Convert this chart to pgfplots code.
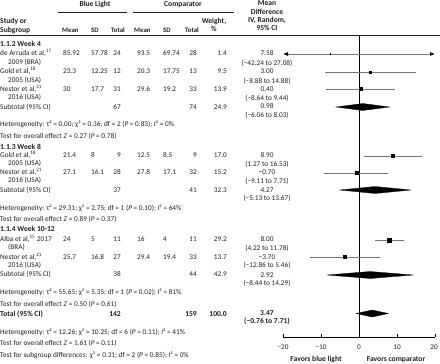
\documentclass[border=0pt]{standalone}
\usepackage{fontspec}
\setmainfont{Carlito}
\usepackage{pgfplots}
\pgfplotsset{compat=1.18}
\usetikzlibrary{arrows.meta}
\definecolor{cigray}{RGB}{120,120,120}
\definecolor{txt}{RGB}{35,31,32}
\newcommand{\chfont}{\fontsize{7.3}{8}\selectfont}
\newcommand{\chbold}{\fontsize{7.6}{8}\selectfont\bfseries}
\newcommand{\Lt}[3]{\node[anchor=base west,inner sep=0pt] at (#1,#2+2.5) {#3};}
\newcommand{\Rt}[3]{\node[anchor=base east,inner sep=0pt] at (#1,#2+2.5) {#3};}
\newcommand{\Ct}[3]{\node[anchor=base,inner sep=0pt] at (#1,#2+2.5) {#3};}
% one study row: y, m1, sd1, n1, m2, sd2, n2, weight, md
\newcommand{\Row}[9]{%
  \Lt{63}{#1}{#2}\Lt{91}{#1}{#3}\Rt{121}{#1}{#4}%
  \Lt{137}{#1}{#5}\Lt{163}{#1}{#6}\Rt{197}{#1}{#7}\Rt{227}{#1}{#8}%
  \Ct{267}{#1}{#9}}
\begin{document}
\begin{tikzpicture}
\useasboundingbox (0,0) rectangle (440bp,-364bp);
\begin{scope}[x=1bp,y=-1bp,font=\chfont,text=txt]
% header
\begin{scope}[font=\chbold]
\Ct{95}{4}{Blue Light}
\Ct{183}{4}{Comparator}
\Ct{267}{3}{Mean}
\Ct{267}{12}{Difference}
\Ct{267}{20}{IV, Random,}
\Ct{267}{28}{95\% CI}
\Lt{0}{21}{Study or}
\Lt{0}{30}{Subgroup}
\Ct{214}{21}{Weight,}
\Ct{214}{29}{\%}
\end{scope}
\begin{scope}[font=\fontsize{6.8}{8}\selectfont\bfseries]
\Lt{62}{30}{Mean}\Lt{91}{30}{SD}\Lt{111}{30}{Total}
\Lt{134}{30}{Mean}\Lt{163}{30}{SD}\Lt{185}{30}{Total}
\end{scope}
\draw[line width=0.6bp,txt] (58,12) -- (127,12);
\draw[line width=0.6bp,txt] (133,12) -- (234,12);
\draw[line width=0.6bp,txt] (0,35.5) -- (440,35.5);
% Week 4
\node[font=\chbold,anchor=base west,inner sep=0pt] at (0,44+2.5) {1.1.2 Week 4};
\Lt{0}{53}{de Arruda et al,\textsuperscript{17}}\Lt{8}{62}{2009 (BRA)}
\Row{53}{85.92}{57.78}{24}{93.5}{69.74}{28}{1.4}{7.58}
\Ct{267}{63}{(−42.24 to 27.08)}
\Lt{0}{71}{Gold et al,\textsuperscript{18}}\Lt{8}{80}{2005 (USA)}
\Row{71}{23.3}{12.25}{12}{20.3}{17.75}{13}{9.5}{3.00}
\Ct{267}{81}{(−8.88 to 14.88)}
\Lt{0}{89}{Nestor et al,\textsuperscript{21}}\Lt{8}{97}{2016 (USA)}
\Row{89}{30}{17.7}{31}{29.6}{19.2}{33}{13.9}{0.40}
\Ct{267}{98}{(−8.64 to 9.44)}
\Lt{0}{107}{Subtotal (95\% CI)}\Rt{121}{107}{67}\Rt{197}{107}{74}\Rt{227}{107}{24.9}
\Ct{267}{106}{0.98}\Ct{267}{115}{(−6.06 to 8.03)}
\Lt{0}{124}{Heterogeneity: τ² = 0.00; χ² = 0.36; df = 2 (\textit{P} = 0.83); \textit{I}² = 0\%}
\Lt{0}{136}{Test for overall effect \textit{Z} = 0.27 (\textit{P} = 0.78)}
% Week 8
\node[font=\chbold,anchor=base west,inner sep=0pt] at (0,147+2.5) {1.1.3 Week 8};
\Lt{0}{155}{Gold et al,\textsuperscript{18}}\Lt{8}{163}{2005 (USA)}
\Row{155}{21.4}{8}{9}{12.5}{8.5}{9}{17.0}{8.90}
\Ct{267}{164}{(1.27 to 16.53)}
\Lt{0}{172}{Nestor et al,\textsuperscript{21}}\Lt{8}{180}{2016 (USA)}
\Row{172}{27.1}{16.1}{28}{27.8}{17.1}{32}{15.2}{−0.70}
\Ct{267}{181}{(−9.11 to 7.71)}
\Lt{0}{190}{Subtotal (95\% CI)}\Rt{121}{190}{37}\Rt{197}{190}{41}\Rt{227}{190}{32.3}
\Ct{267}{190}{4.27}\Ct{267}{198}{(−5.13 to 13.67)}
\Lt{0}{208}{Heterogeneity: τ² = 29.31; χ² = 2.75; df = 1 (\textit{P} = 0.10); \textit{I}² = 64\%}
\Lt{0}{219}{Test for overall effect \textit{Z} = 0.89 (\textit{P} = 0.37)}
% Week 10-12
\node[font=\chbold,anchor=base west,inner sep=0pt] at (0,229+2.5) {1.1.4 Week 10-12};
\Lt{0}{239}{Alba et al,\textsuperscript{15} 2017}\Lt{8}{247}{(BRA)}
\Row{239}{24}{5}{11}{16}{4}{11}{29.2}{8.00}
\Ct{267}{248}{(4.22 to 11.78)}
\Lt{0}{257}{Nestor et al,\textsuperscript{21}}\Lt{8}{265}{2016 (USA)}
\Row{257}{25.7}{16.8}{27}{29.4}{19.4}{33}{13.7}{−3.70}
\Ct{267}{265}{(−12.86 to 5.46)}
\Lt{0}{274}{Subtotal (95\% CI)}\Rt{121}{274}{38}\Rt{197}{274}{44}\Rt{227}{274}{42.9}
\Ct{267}{275}{2.92}\Ct{267}{283}{(−8.44 to 14.29)}
\Lt{0}{292}{Heterogeneity: τ² = 55.65; χ² = 5.35; df = 1 (\textit{P} = 0.02); \textit{I}² = 81\%}
\Lt{0}{304}{Test for overall effect \textit{Z} = 0.50 (\textit{P} = 0.61)}
% Total
\begin{scope}[font=\chbold]
\Lt{0}{314}{Total (95\% CI)}\Rt{121}{314}{142}\Rt{197}{314}{159}\Rt{227}{314}{100.0}
\Ct{267}{313}{3.47}\Ct{267}{321}{(−0.76 to 7.71)}
\end{scope}
\Lt{0}{332}{Heterogeneity: τ² = 12.26; χ² = 10.25; df = 6 (\textit{P} = 0.11); \textit{I}² = 41\%}
\Lt{0}{343}{Test for overall effect \textit{Z} = 1.61 (\textit{P} = 0.11)}
\Lt{0}{355}{Test for subgroup differences: χ² = 0.31; df = 2 (\textit{P} = 0.85); \textit{I}² = 0\%}
% x tick labels
\Ct{283}{347}{−20}\Ct{321}{347}{−10}\Ct{359}{347}{0}\Ct{397}{347}{10}\Ct{434}{347}{20}
\begin{scope}[font=\chbold]
\Ct{316}{359}{Favors blue light}
\Ct{396}{359}{Favors comparator}
\end{scope}
\end{scope}
\begin{axis}[
  at={(283bp,-337bp)}, anchor=south west,
  scale only axis, width=152bp, height=302bp,
  xmin=-20, xmax=20, ymin=-337, ymax=-35,
  axis x line*=bottom, axis y line*=left,
  y axis line style={draw=none}, ytick=\empty,
  x axis line style={line width=0.6bp, draw=black},
  xtick={-20,-10,0,10,20},
  xticklabels={},
  xtick align=inside, major tick length=3.5bp,
  xtick style={line width=0.6bp, draw=black},
  clip=false,
]
\addplot[black, line width=0.6bp] coordinates {(0,-35.5) (0,-337)};
% Week 4
\addplot[cigray, line width=0.7bp, arrows={Latex[length=5bp,width=4bp,black]-Latex[length=5bp,width=4bp,black]}] coordinates {(-20,-54) (20,-54)};
\addplot[only marks, mark=square*, mark size=0.5, black] coordinates {(-7.58,-54)};
\addplot[cigray, line width=0.7bp] coordinates {(-8.88,-72) (14.88,-72)};
\addplot[only marks, mark=square*, mark size=1.17, black] coordinates {(3.00,-72)};
\addplot[cigray, line width=0.7bp] coordinates {(-8.64,-89) (9.44,-89)};
\addplot[only marks, mark=square*, mark size=1.42, black] coordinates {(0.40,-89)};
\addplot[fill=black, draw=black, line width=0.3bp] coordinates {(-6.06,-107) (0.98,-103.5) (8.03,-107) (0.98,-110.5)} -- cycle;
% Week 8
\addplot[cigray, line width=0.7bp] coordinates {(1.27,-156) (16.53,-156)};
\addplot[only marks, mark=square*, mark size=1.57, black] coordinates {(8.90,-156)};
\addplot[cigray, line width=0.7bp] coordinates {(-9.11,-173) (7.71,-173)};
\addplot[only marks, mark=square*, mark size=1.48, black] coordinates {(-0.70,-173)};
\addplot[fill=black, draw=black, line width=0.3bp] coordinates {(-5.13,-190) (4.27,-186.5) (13.67,-190) (4.27,-193.5)} -- cycle;
% Week 10-12
\addplot[cigray, line width=0.7bp] coordinates {(4.22,-240) (11.78,-240)};
\addplot[only marks, mark=square*, mark size=2.05, black] coordinates {(8.00,-240)};
\addplot[cigray, line width=0.7bp] coordinates {(-12.86,-257) (5.46,-257)};
\addplot[only marks, mark=square*, mark size=1.41, black] coordinates {(-3.70,-257)};
\addplot[fill=black, draw=black, line width=0.3bp] coordinates {(-8.44,-275) (2.92,-271.5) (14.29,-275) (2.92,-278.5)} -- cycle;
% Total
\addplot[fill=black, draw=black, line width=0.3bp] coordinates {(-0.76,-313.5) (3.47,-310) (7.71,-313.5) (3.47,-317)} -- cycle;
\end{axis}
\end{tikzpicture}
\end{document}
